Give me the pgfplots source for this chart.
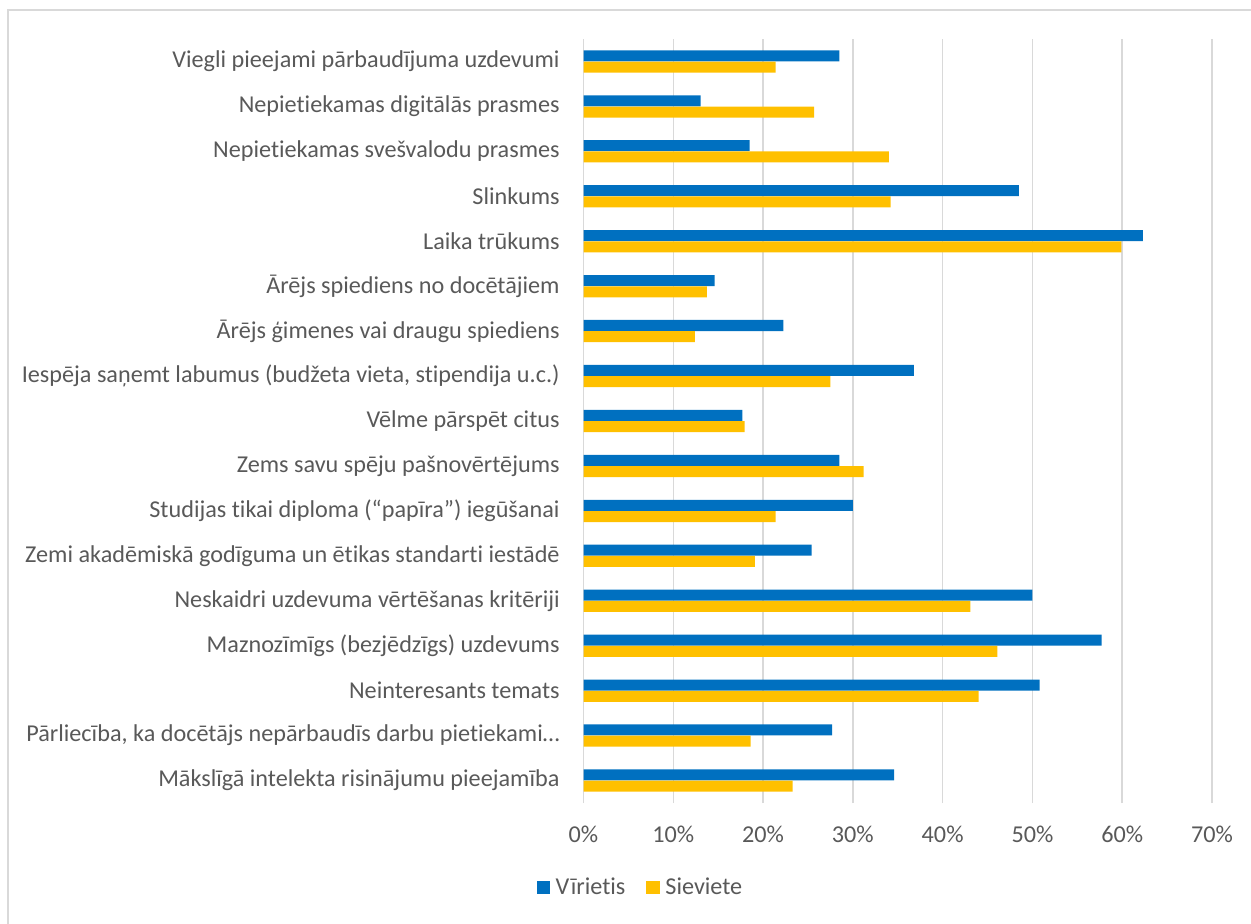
\documentclass[border=0pt]{standalone}
\usepackage{fontspec}
\setmainfont{Carlito}[Ligatures=NoCommon]
\usepackage{pgfplots}
\pgfplotsset{compat=1.18}
\definecolor{vir}{HTML}{0070C0}
\definecolor{sie}{HTML}{FFC000}
\definecolor{gridc}{HTML}{D9D9D9}
\definecolor{txt}{HTML}{595959}

% values, top category = 16
\pgfplotstableread{
y  vir   sie
16 28.5  21.4
15 13.05 25.7
14 18.5  34.0
13 48.5  34.2
12 62.3  59.9
11 14.6  13.75
10 22.25 12.4
9  36.8  27.5
8  17.7  17.95
7  28.5  31.2
6  30.0  21.4
5  25.4  19.1
4  50.0  43.1
3  57.7  46.1
2  50.8  44.0
1  27.7  18.6
0  34.6  23.3
}\datatable

\begin{document}
\begin{tikzpicture}
\useasboundingbox (0,0) rectangle (625.5pt,461.5pt);
\begin{scope}
\clip (0,0) rectangle (625.5pt,461.5pt);
\draw[gridc, line width=0.75pt] (4pt,-10pt) -- (4pt,456.5pt) -- (640pt,456.5pt);
\end{scope}
\begin{axis}[
  at={(291.75pt,60pt)}, anchor=south west,
  scale only axis,
  width=314.25pt, height=382pt,
  xbar,
  bar width=0.245,
  xmin=0, xmax=70,
  ymin=-0.5, ymax=16.5,
  xtick={0,10,...,70},
  xticklabel={\pgfmathprintnumber{\tick}\%},
  ytick={0,...,16},
  yticklabels={
    Mākslīgā intelekta risinājumu pieejamība,
    {Pārliecība, ka docētājs nepārbaudīs darbu pietiekami…},
    Neinteresants temats,
    Maznozīmīgs (bezjēdzīgs) uzdevums,
    Neskaidri uzdevuma vērtēšanas kritēriji,
    Zemi akadēmiskā godīguma un ētikas standarti iestādē,
    Studijas tikai diploma (“papīra”) iegūšanai,
    Zems savu spēju pašnovērtējums,
    Vēlme pārspēt citus,
    {Iespēja saņemt labumus (budžeta vieta, stipendija u.c.)},
    Ārējs ģimenes vai draugu spiediens,
    Ārējs spiediens no docētājiem,
    Laika trūkums,
    Slinkums,
    Nepietiekamas svešvalodu prasmes,
    Nepietiekamas digitālās prasmes,
    Viegli pieejami pārbaudījuma uzdevumi},
  axis line style={draw=none},
  major tick length=0pt,
  xmajorgrids,
  grid style={gridc, line width=0.75pt},
  tick label style={font=\fontsize{12.1pt}{14pt}\selectfont, text=txt, inner sep=0pt},
  yticklabel style={anchor=east, xshift=-11.75pt},
  xticklabel style={anchor=base, yshift=-19.5pt},
  /pgf/number format/assume math mode=true,
  legend columns=2,
  legend style={at={(0.0891,-0.1106)}, anchor=center, draw=none,
    font=\fontsize{12.1pt}{14pt}\selectfont, text=txt,
    nodes={inner sep=0pt},
    /tikz/every odd column/.append style={column sep=2.7pt},
    /tikz/every even column/.append style={column sep=10.5pt}},
  legend image code/.code={\fill[#1] (0pt,-3.4pt) rectangle (6.8pt,3.4pt);},
]
\addplot[fill=vir, draw=none, bar shift=0.125] table[x=vir, y=y] {\datatable};
\addplot[fill=sie, draw=none, bar shift=-0.125] table[x=sie, y=y] {\datatable};
\legend{Vīrietis, Sieviete}
\end{axis}
\end{tikzpicture}
\end{document}
